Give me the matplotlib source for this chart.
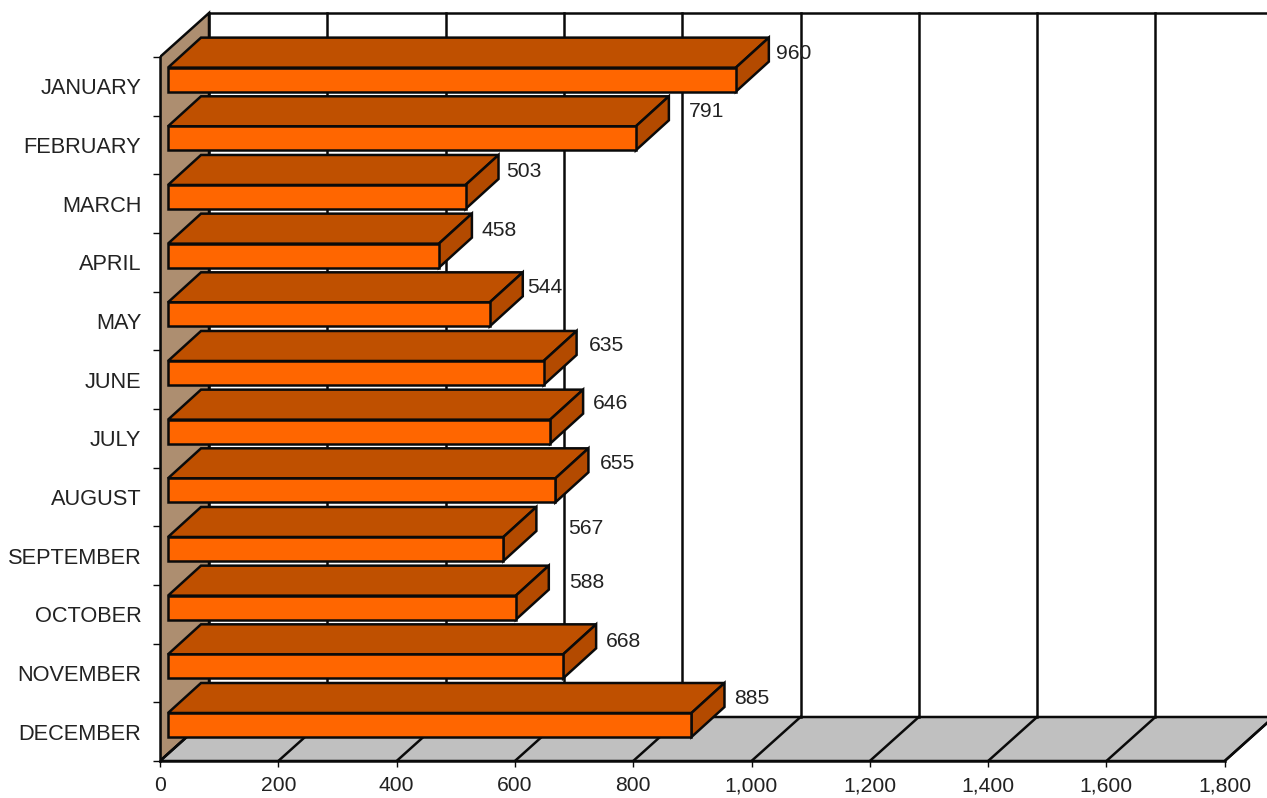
import matplotlib
matplotlib.use("Agg")
import matplotlib.pyplot as plt
from matplotlib.patches import Polygon

plt.rcParams['font.family'] = ['Liberation Sans', 'DejaVu Sans']

# ---- data ----
months = ["JANUARY", "FEBRUARY", "MARCH", "APRIL", "MAY", "JUNE", "JULY",
          "AUGUST", "SEPTEMBER", "OCTOBER", "NOVEMBER", "DECEMBER"]
values = [960, 791, 503, 458, 544, 635, 646, 655, 567, 588, 668, 885]
x_ticks = [0, 200, 400, 600, 800, 1000, 1200, 1400, 1600, 1800]

# ---- layout (figure pixels converted to data units) ----
W, H = 1267, 798
PX_X0, PX_Y0 = 160, 761          # origin of the front of the floor
PX_PER_UNIT = 118.3 / 200
PX_PER_CAT = 58.67
dx = lambda p: p / PX_PER_UNIT
dy = lambda p: p / PX_PER_CAT

WALL_DX, WALL_DY = dx(49), dy(44)
TOP_Y = dy(PX_Y0 - 13)
BAR_START = dx(8)
BAR_DX, BAR_DY = dx(33), dy(30)
BAR_LOW, BAR_H = dy(24), dy(24)
# label offsets from the tip of each bar's back edge, pixels (x, y up)
label_off_x = [7, 20, 8, 10, 4, 12, 10, 11, 32, 20, 10, 10]
label_off_y = [-16, -15, -17, -17, -15, -15, -14, -15, -22, -17, -17, -15]

FRONT, TOP, SIDE = "#FF6600", "#BF5000", "#B34A00"
WALL, FLOOR = "#AD8E70", "#C0C0C0"
EDGE, TEXT = "#0A0A0A", "#222222"
LW = 1.8

fig = plt.figure(figsize=(W / 100, H / 100), dpi=100)
ax = fig.add_axes([PX_X0 / W, (H - PX_Y0) / H, (W - PX_X0) / W, PX_Y0 / H])
ax.set_xlim(0, (W - PX_X0) / PX_PER_UNIT)
ax.set_ylim(0, PX_Y0 / PX_PER_CAT)
n = len(months)
x_max = x_ticks[-1]

# wall and floor
ax.add_patch(Polygon([(0, 0), (0, n), (WALL_DX, TOP_Y), (WALL_DX, WALL_DY)],
                     fc=WALL, ec=EDGE, lw=LW, zorder=1))
ax.add_patch(Polygon([(0, 0), (x_max, 0), (x_max + WALL_DX, WALL_DY), (WALL_DX, WALL_DY)],
                     fc=FLOOR, ec=EDGE, lw=LW, zorder=1))
# back-wall gridlines, floor lines, top and back lines
for t in x_ticks:
    ax.plot([t + WALL_DX] * 2, [WALL_DY, TOP_Y], color=EDGE, lw=LW, zorder=2)
    ax.plot([t, t + WALL_DX], [0, WALL_DY], color=EDGE, lw=LW, zorder=2)
ax.plot([WALL_DX, x_max + WALL_DX], [TOP_Y, TOP_Y], color=EDGE, lw=LW, zorder=2)

# bars, back to front
for i, (v, ox, oy) in enumerate(zip(values, label_off_x, label_off_y)):
    y0 = (n - 1 - i) + BAR_LOW
    y1 = y0 + BAR_H
    x0 = BAR_START
    x1 = BAR_START + v
    z = 3 + i
    ax.add_patch(Polygon([(x0, y1), (x1, y1), (x1 + BAR_DX, y1 + BAR_DY), (x0 + BAR_DX, y1 + BAR_DY)],
                         fc=TOP, ec=EDGE, lw=LW, joinstyle='miter', zorder=z))
    ax.add_patch(Polygon([(x1, y0), (x1 + BAR_DX, y0 + BAR_DY), (x1 + BAR_DX, y1 + BAR_DY), (x1, y1)],
                         fc=SIDE, ec=EDGE, lw=LW, joinstyle='miter', zorder=z))
    ax.add_patch(Polygon([(x0, y0), (x1, y0), (x1, y1), (x0, y1)],
                         fc=FRONT, ec=EDGE, lw=LW, joinstyle='miter', zorder=z))
    ax.annotate(str(v), xy=(x1 + BAR_DX, y1 + BAR_DY), xycoords='data',
                xytext=(ox * 0.72, oy * 0.72), textcoords='offset points',
                ha='left', va='center', fontsize=15.2, color=TEXT, zorder=30)

# axes
for s in ("top", "right"):
    ax.spines[s].set_visible(False)
for s in ("left", "bottom"):
    ax.spines[s].set_linewidth(LW)
    ax.spines[s].set_color(EDGE)
    ax.spines[s].set_zorder(40)
ax.spines["left"].set_bounds(0, n)
ax.spines["bottom"].set_bounds(0, x_max)
ax.patch.set_alpha(0)

ax.set_xticks(x_ticks)
ax.set_xticklabels([f"{t:,}" for t in x_ticks])
ax.tick_params(axis='x', length=4.5, width=1, color=EDGE, pad=6.5,
               labelsize=15.2, labelcolor=TEXT)
ax.set_yticks(range(n + 1), minor=True)
ax.set_yticks([n - 0.5 - i for i in range(n)])
ax.set_yticklabels(months)
ax.tick_params(axis='y', which='major', length=0, pad=13.5,
               labelsize=15.7, labelcolor=TEXT)
ax.tick_params(axis='y', which='minor', length=5, width=1, color=EDGE)

fig.savefig("out.png", dpi=100, facecolor="white")
